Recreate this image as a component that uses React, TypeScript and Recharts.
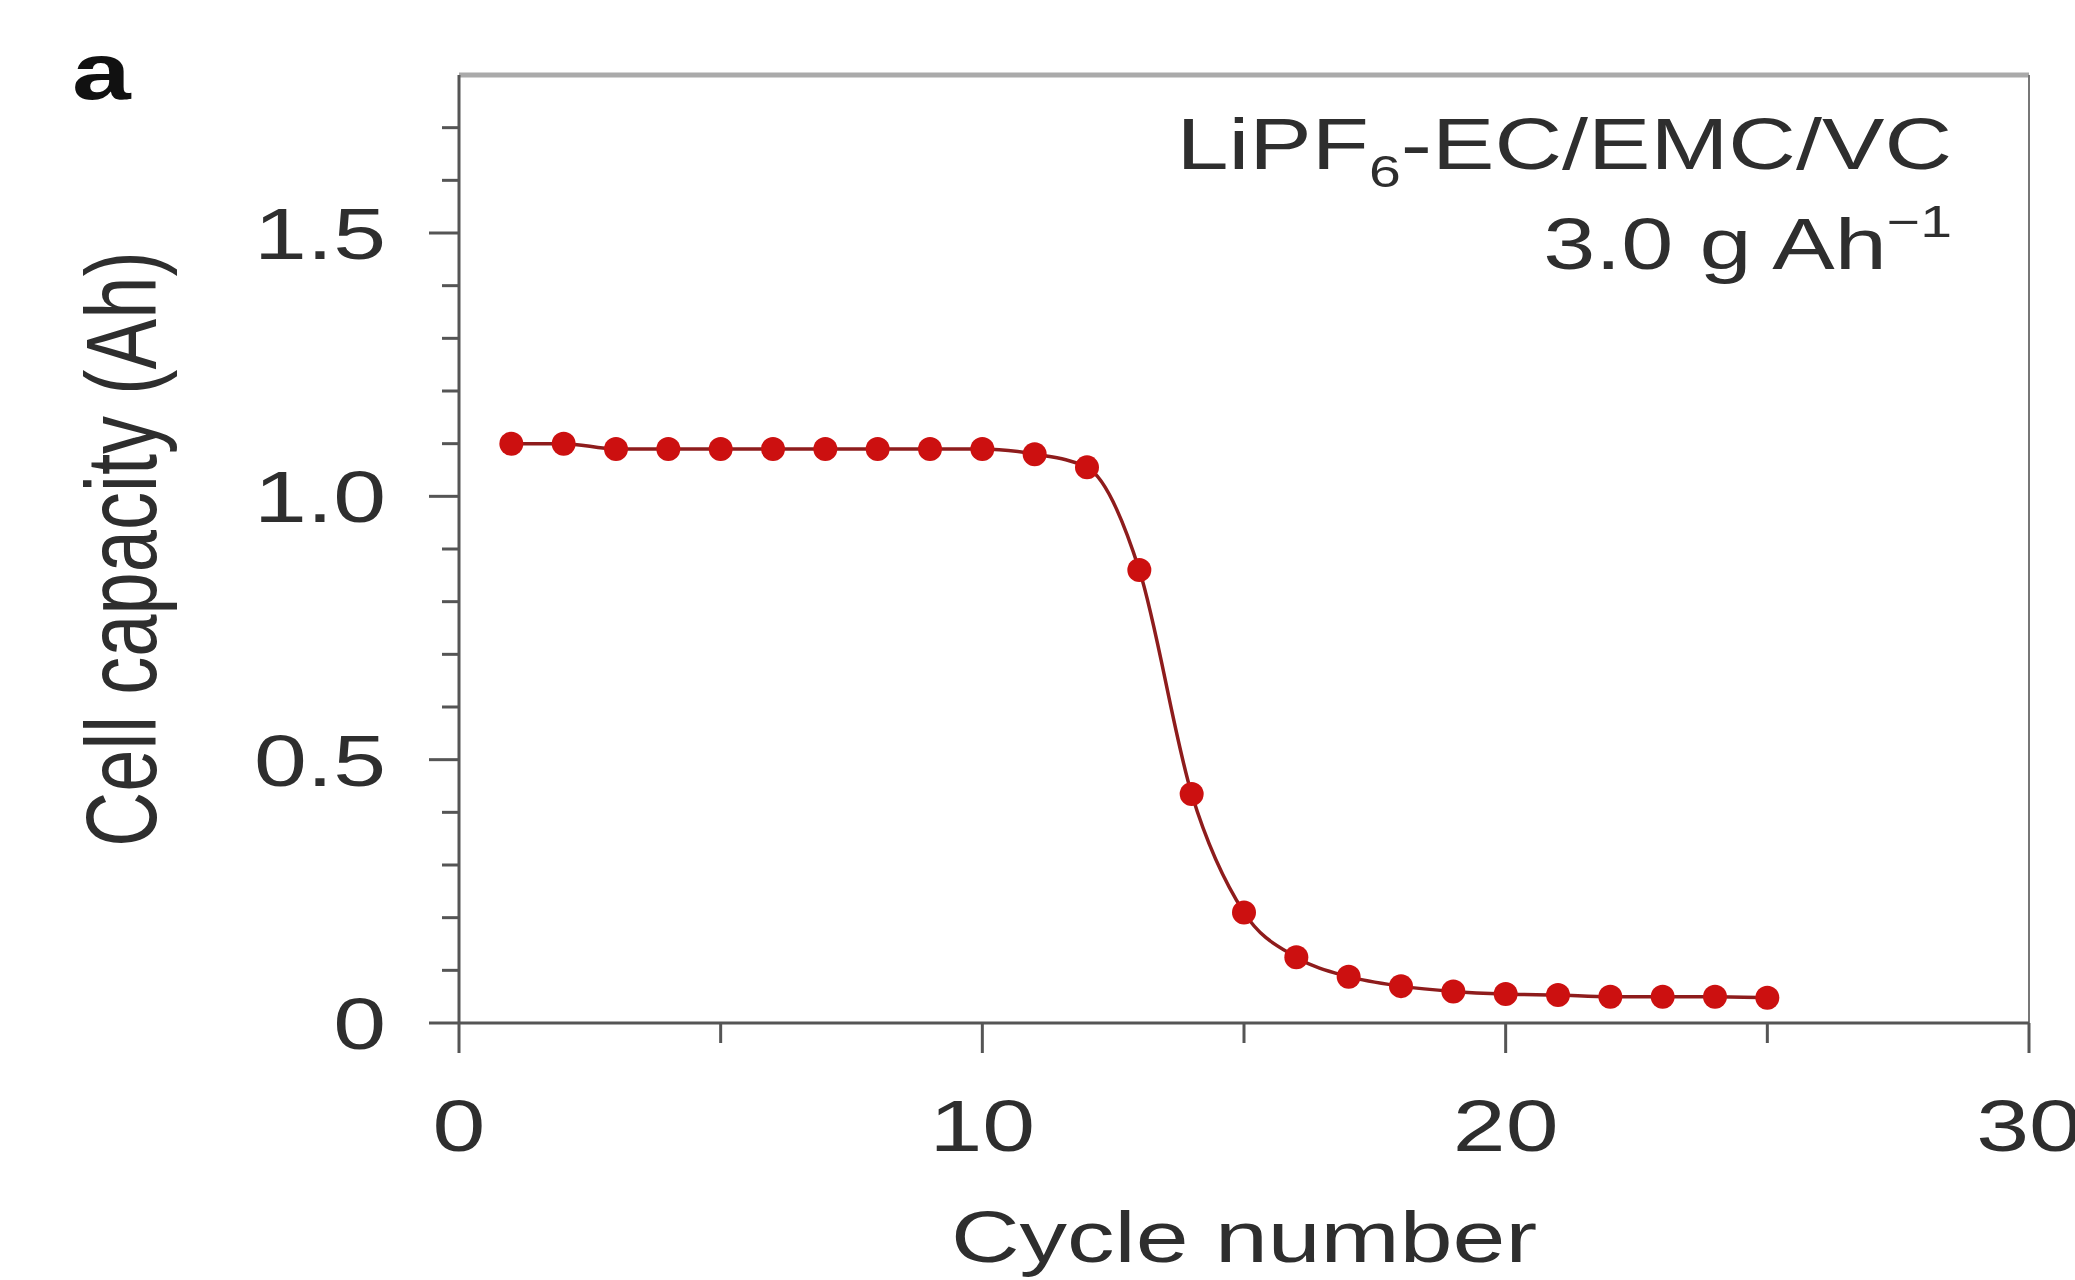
import React from "react";
import { LineChart, Line, XAxis, YAxis, ReferenceLine, Customized } from "recharts";

// cycle number vs cell capacity (Ah)
const cycles = [1, 2, 3, 4, 5, 6, 7, 8, 9, 10, 11, 12, 13, 14, 15, 16, 17, 18, 19, 20, 21, 22, 23, 24, 25];
const capacity = [
  1.1, 1.1, 1.09, 1.09, 1.09, 1.09, 1.09, 1.09, 1.09, 1.09, 1.08, 1.055, 0.86, 0.435, 0.21, 0.125,
  0.088, 0.07, 0.06, 0.055, 0.053, 0.05, 0.05, 0.05, 0.048,
];

const xTicks = [0, 5, 10, 15, 20, 25, 30];
const xMajor = [0, 10, 20, 30];
const xLabels = ["0", "10", "20", "30"];
const yTicks = [0, 0.1, 0.2, 0.3, 0.4, 0.5, 0.6, 0.7, 0.8, 0.9, 1.0, 1.1, 1.2, 1.3, 1.4, 1.5, 1.6, 1.7];
const yMajor = [0, 0.5, 1.0, 1.5];
const yLabels = ["0", "0.5", "1.0", "1.5"];

const data = cycles.map((c, i) => ({ cycle: c, capacity: capacity[i] }));

const W = 2075;
const H = 1280;
const PLOT_LEFT = 459;
const PLOT_BOTTOM = 1023;
const FONT = '"Liberation Sans", Arial, Helvetica, sans-serif';
const SX = 1.32; // the source text is stretched sideways
const TXT = "#2e2e2e";
const AXIS = "#555";

const YTick = (props: any) => {
  const { y, payload } = props;
  const i = yMajor.indexOf(payload.value);
  const len = i >= 0 ? 30 : 17;
  return (
    <g>
      <line x1={PLOT_LEFT - len} x2={PLOT_LEFT} y1={y} y2={y} stroke={AXIS} strokeWidth={3} />
      {i >= 0 && (
        <text
          transform={`translate(386, ${y + 26}) scale(${SX}, 1)`}
          textAnchor="end"
          fontSize={72}
          fontFamily={FONT}
          fill={TXT}
        >
          {yLabels[i]}
        </text>
      )}
    </g>
  );
};

const XTick = (props: any) => {
  const { x, payload } = props;
  const i = xMajor.indexOf(payload.value);
  const len = i >= 0 ? 30 : 20;
  return (
    <g>
      <line x1={x} x2={x} y1={PLOT_BOTTOM} y2={PLOT_BOTTOM + len} stroke={AXIS} strokeWidth={3} />
      {i >= 0 && (
        <text
          transform={`translate(${x}, 1151) scale(${SX}, 1)`}
          textAnchor="middle"
          fontSize={72}
          fontFamily={FONT}
          fill={TXT}
        >
          {xLabels[i]}
        </text>
      )}
    </g>
  );
};

const Texts = () => (
  <g fontFamily={FONT} fill={TXT}>
    <text transform={`translate(72, 99) scale(${SX}, 1)`} fontSize={80} fontWeight="bold" fill="#111">
      a
    </text>
    <text transform={`translate(156, 549) scale(${SX}, 1) rotate(-90)`} textAnchor="middle" fontSize={76}>
      Cell capacity (Ah)
    </text>
    <text transform={`translate(1244, 1262) scale(${SX}, 1)`} textAnchor="middle" fontSize={72}>
      Cycle number
    </text>
    <text transform={`translate(1952, 169) scale(1.3, 1)`} textAnchor="end" fontSize={72}>
      LiPF
      <tspan fontSize={44} dy={18}>6</tspan>
      <tspan dy={-18}>-EC/EMC/VC</tspan>
    </text>
    <text transform={`translate(1952, 269) scale(1.3, 1)`} textAnchor="end" fontSize={72}>
      3.0 g Ah
      <tspan fontSize={44} dy={-32}>−1</tspan>
    </text>
  </g>
);

export default function App() {
  return (
    <div style={{ position: "absolute", left: 0, top: 0, width: W, height: H, background: "#fff" }}>
      <LineChart width={W} height={H} data={data} margin={{ top: 75, right: 46, bottom: 57, left: 259 }}>
        <XAxis
          dataKey="cycle"
          type="number"
          domain={[0, 30]}
          ticks={xTicks}
          interval={0}
          height={200}
          tickLine={false}
          tickSize={0}
          axisLine={{ stroke: AXIS, strokeWidth: 3 }}
          tick={<XTick />}
        />
        <YAxis
          type="number"
          domain={[0, 1.8]}
          ticks={yTicks}
          interval={0}
          width={200}
          tickLine={false}
          tickSize={0}
          axisLine={{ stroke: AXIS, strokeWidth: 3 }}
          tick={<YTick />}
        />
        <ReferenceLine y={1.8} stroke="#aaa" strokeWidth={5} />
        <ReferenceLine x={30} stroke="#777" strokeWidth={2} />
        <Line
          dataKey="capacity"
          type="monotone"
          stroke="#8e1c1c"
          strokeWidth={3.5}
          dot={{ r: 12, fill: "#cc1010", stroke: "none" }}
          isAnimationActive={false}
        />
        <Customized component={Texts} />
      </LineChart>
    </div>
  );
}
